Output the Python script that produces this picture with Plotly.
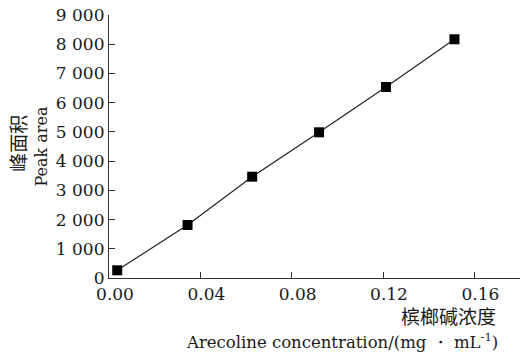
import plotly.graph_objects as go

conc = [0.0036, 0.0344, 0.0627, 0.0920, 0.1213, 0.1513]
area = [263, 1814, 3467, 4986, 6536, 8169]

y_ticks = [0, 1000, 2000, 3000, 4000, 5000, 6000, 7000, 8000, 9000]
y_labels = ["0", "1 000", "2 000", "3 000", "4 000", "5 000", "6 000", "7 000", "8 000", "9 000"]
x_ticks = [0.00, 0.04, 0.08, 0.12, 0.16, 0.18]
x_labels = ["0.00", "0.04", "0.08", "0.12", "0.16", ""]

serif = "DejaVu Serif"
cjk = "Noto Sans CJK SC"
ink = "#1a1a1a"

fig = go.Figure()
fig.add_trace(go.Scatter(
    x=conc, y=area, mode="lines+markers",
    line=dict(color="#222222", width=1.2),
    marker=dict(symbol="square", size=10, color="black"),
    showlegend=False, hoverinfo="skip",
))

axis_common = dict(
    showgrid=False, zeroline=False, showline=True, linecolor="#333333", linewidth=1.2,
    ticks="inside", ticklen=6, tickcolor="#333333", tickwidth=1.2,
    tickfont=dict(family=serif, size=17, color=ink),
)
fig.update_xaxes(range=[0, 0.18], tickvals=x_ticks, ticktext=x_labels,
                 ticklabelshift=6, **axis_common)
fig.update_yaxes(range=[0, 9000], tickvals=y_ticks, ticktext=y_labels, **axis_common)

# y-axis title (two lines)
fig.add_annotation(text="峰面积", xref="paper", yref="paper", x=0, y=0.51,
                   xanchor="center", yanchor="middle", xshift=-91, textangle=-90,
                   showarrow=False, font=dict(family=cjk, size=19, color=ink))
fig.add_annotation(text="Peak area", xref="paper", yref="paper", x=0, y=0.5,
                   xanchor="center", yanchor="middle", xshift=-68, textangle=-90,
                   showarrow=False, font=dict(family=serif, size=16, color=ink))

# x-axis title (two lines, right aligned)
fig.add_annotation(text="槟榔碱浓度", xref="paper", yref="paper", x=0.947, y=-0.141,
                   xanchor="right", yanchor="middle", showarrow=False,
                   font=dict(family=cjk, size=19, color=ink))
fig.add_annotation(text="Arecoline concentration/(mg ・ mL<sup>-1</sup>)", xref="paper", yref="paper",
                   x=0.951, y=-0.24, xanchor="right", yanchor="middle", showarrow=False,
                   font=dict(family=serif, size=16.5, color=ink))

fig.update_layout(
    width=522, height=353,
    margin=dict(l=109, r=2, t=15, b=75),
    plot_bgcolor="white", paper_bgcolor="white",
)
fig.write_html("out.html", config={"displayModeBar": False},
               post_script="document.body.style.margin='0';")
